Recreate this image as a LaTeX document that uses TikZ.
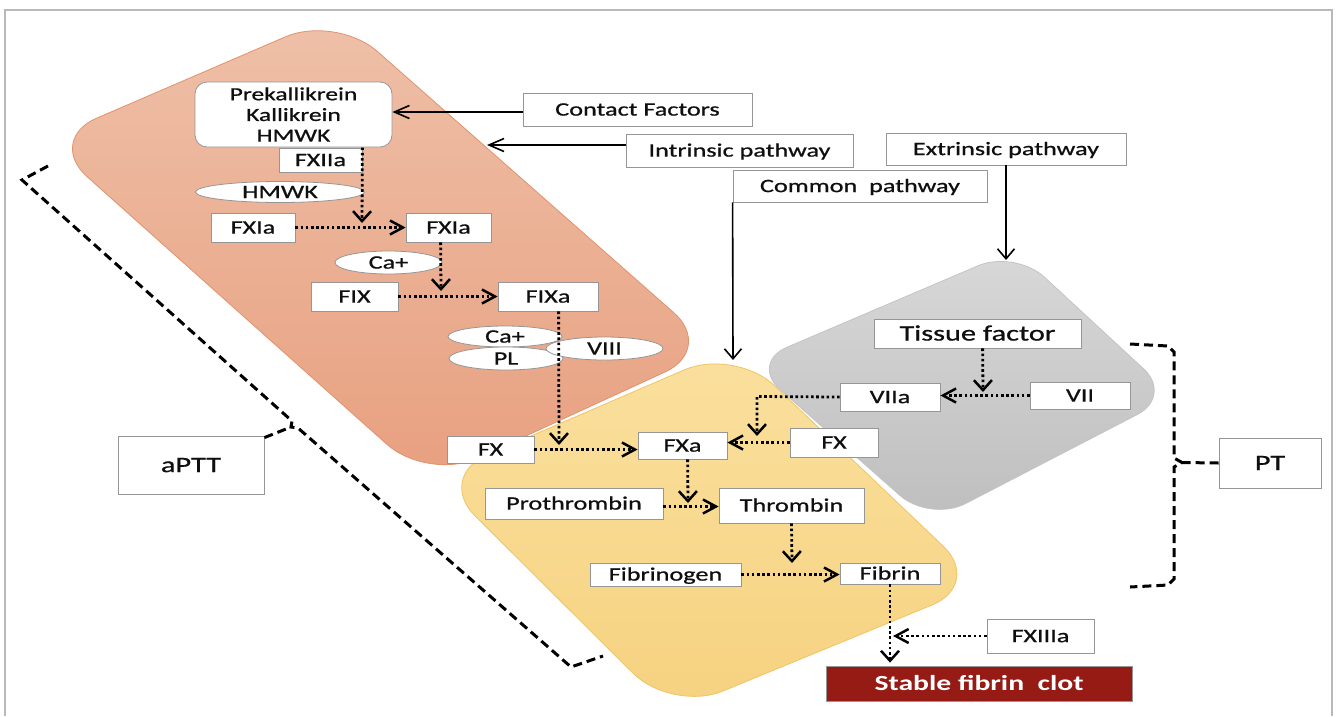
\documentclass[tikz,border=0pt]{standalone}
\usepackage{fontspec}
\setmainfont{Carlito}[FakeStretch=1.38, UprightFeatures={FakeBold=0.8}]
\usetikzlibrary{arrows.meta,shapes.geometric}
\definecolor{orTop}{RGB}{238,192,168}
\definecolor{orBot}{RGB}{232,160,128}
\definecolor{orEdge}{RGB}{226,146,108}
\definecolor{yeTop}{RGB}{250,224,158}
\definecolor{yeBot}{RGB}{246,210,128}
\definecolor{yeEdge}{RGB}{242,196,100}
\definecolor{grTop}{RGB}{216,216,216}
\definecolor{grBot}{RGB}{190,190,190}
\definecolor{grEdge}{RGB}{196,196,196}
\definecolor{boxgray}{RGB}{150,150,150}
\definecolor{clotred}{RGB}{149,27,20}
\definecolor{framegray}{RGB}{185,185,185}
\definecolor{txt}{RGB}{15,15,15}
\begin{document}
\begin{tikzpicture}[x=1pt,y=-1pt,
  basebox/.style={draw=boxgray, line width=0.8pt, fill=white, inner sep=0pt, text=txt},
  box/.style={basebox, font=\fontsize{19}{22}\selectfont, text height=12.2pt, text depth=0pt},
  bigbox/.style={basebox, font=\fontsize{22}{25}\selectfont, text height=14.1pt, text depth=0pt},
  ell/.style={ellipse, draw=boxgray, line width=0.8pt, fill=white, inner sep=0pt},
  elab/.style={label={[text=txt, font=\fontsize{19}{22}\selectfont, text height=12.2pt, text depth=0pt, inner sep=0pt]center:#1}},
  solidh/.style={line width=1.6pt, -{Straight Barb[length=15pt,width=13pt,line width=1.6pt]}},
  solidv/.style={line width=1.6pt, -{Straight Barb[length=10pt,width=17pt,line width=1.6pt]}},
  doth/.style={line width=2.8pt, dash pattern=on 2.6pt off 2.6pt, -{Straight Barb[length=13pt,width=14pt,line width=2.5pt]}},
  dotv/.style={line width=2.8pt, dash pattern=on 2.6pt off 2.6pt, -{Straight Barb[length=10pt,width=18pt,line width=2.5pt]}},
  dashbr/.style={line width=3pt, dash pattern=on 9pt off 5pt}
]
\useasboundingbox (0,0) rectangle (1338,716);
\fill[white] (0,0) rectangle (1338,716);
% frame
\draw[framegray, line width=1.5pt] (5,716) -- (5,10) -- (1332,10) -- (1332,716);

% pathway shapes
\draw[orEdge, line width=0.8pt, top color=orTop, bottom color=orBot, rounded corners=55pt]
  (336,15) -- (715,349) -- (428,481) -- (46,140) -- cycle;
\draw[grEdge, line width=0.8pt, top color=grTop, bottom color=grBot, rounded corners=40pt]
  (1015,250) -- (1173,396) -- (930,522) -- (750,363) -- cycle;
\draw[yeEdge, line width=0.8pt, top color=yeTop, bottom color=yeBot, rounded corners=55pt]
  (735,348) -- (983,584) -- (672,712) -- (436,477) -- cycle;

% intrinsic nodes
\node[basebox, rounded corners=12pt, align=center, font=\fontsize{18.5}{20.7}\selectfont,
  minimum width=197pt, minimum height=65pt] (pk) at (293.5,114.5) {Prekallikrein\\Kallikrein\\HMWK};
\node[box, minimum width=83pt, minimum height=24pt] (fxiia) at (320.5,160) {FXIIa};
\node[ell, minimum width=169pt, minimum height=21pt, elab=HMWK] (hmwk) at (280,192) {};
\node[box, minimum width=84pt, minimum height=29pt] (fxiaL) at (253,227.5) {FXIa};
\node[box, minimum width=85pt, minimum height=29pt] (fxiaR) at (448.5,227.5) {FXIa};
\node[ell, minimum width=107pt, minimum height=23pt, elab=Ca+] (ca1) at (388.5,262.5) {};
\node[box, minimum width=87pt, minimum height=29pt] (fix) at (354.5,296.5) {FIX};
\node[box, minimum width=100pt, minimum height=29pt] (fixa) at (548,296.5) {FIXa};
\node[ell, minimum width=114pt, minimum height=21pt, elab=Ca+] (ca2) at (505,336.5) {};
\node[ell, minimum width=114pt, minimum height=23pt, elab=PL] (pl) at (506,358.5) {};
\node[ell, minimum width=117pt, minimum height=23pt, elab=VIII] (viii) at (604.5,348.5) {};

% common / extrinsic nodes
\node[box, minimum width=87pt, minimum height=27pt] (fxL) at (490.5,449.5) {FX};
\node[box, minimum width=89pt, minimum height=27pt] (fxa) at (682.5,445.5) {FXa};
\node[box, minimum width=88pt, minimum height=29pt] (fxR) at (834,442.5) {FX};
\node[box, minimum width=100pt, minimum height=28pt] (viia) at (890,397) {VIIa};
\node[box, minimum width=100pt, minimum height=27pt] (vii) at (1080,395.5) {VII};
\node[bigbox, minimum width=207pt, minimum height=29pt] (tf) at (977.5,333.5) {Tissue factor};
\node[box, minimum width=178pt, minimum height=31pt] (proth) at (574,503.5) {Prothrombin};
\node[box, minimum width=145pt, minimum height=35pt] (thr) at (791.5,505.5) {Thrombin};
\node[box, minimum width=151pt, minimum height=23pt] (fgen) at (665.5,574.5) {Fibrinogen};
\node[box, minimum width=100pt, minimum height=21pt] (fib) at (890,573.5) {Fibrin};
\node[box, minimum width=107pt, minimum height=34pt] (fxiiia) at (1040.5,636) {FXIIIa};
\node[draw=boxgray, line width=0.8pt, fill=clotred, text=white, inner sep=0pt,
  font=\bfseries\fontsize{21.5}{24}\selectfont, text height=13.8pt, text depth=0pt,
  minimum width=306pt, minimum height=35pt] (clot) at (979,683.5) {Stable fibrin~ clot};

% label boxes
\node[box, minimum width=229pt, minimum height=33pt] (cf) at (637.5,109.5) {Contact Factors};
\node[box, minimum width=227pt, minimum height=33pt] (intr) at (739.5,150.5) {Intrinsic pathway};
\node[box, minimum width=240pt, minimum height=32pt] (ext) at (1006,149) {Extrinsic pathway};
\node[box, minimum width=254pt, minimum height=32pt] (com) at (860,186) {Common~ pathway};
\node[bigbox, minimum width=146pt, minimum height=58pt] (aptt) at (191,465) {aPTT};
\node[bigbox, minimum width=102pt, minimum height=50pt] (pt) at (1270,463) {PT};

% solid arrows
\draw[solidh] ([yshift=-2.5pt]cf.west) -- ([yshift=-2.5pt]cf.west -| pk.east);
\coordinate (intrEnd) at (487,145);
\draw[solidh] ([yshift=5.5pt]intr.west) -- (intrEnd);
\coordinate (comEnd) at (733,360);
\draw[solidv] (com.south west) -- (comEnd);
\coordinate (extEnd) at (1006,260);
\draw[solidv] (ext.south) -- (extEnd);

% dotted arrows
\coordinate (t1) at (362,223);
\draw[dotv] (fxiia.north east) -- (t1);
\draw[doth] (fxiaL.east) -- (fxiaR.west);
\coordinate (t2) at (441,291);
\draw[dotv] ([xshift=35pt]fxiaR.south west) -- (t2);
\draw[doth] (fix.east) -- (fixa.west);
\coordinate (t3) at (559,445);
\draw[dotv] ([xshift=61pt]fixa.south west) -- (t3);
\draw[doth] (fxL.east) -- (fxL.east -| fxa.west);
\coordinate (t4) at (983,392);
\draw[dotv] ([xshift=109pt]tf.south west) -- (t4);
\draw[doth] (vii.west) -- (vii.west -| viia.east);
\coordinate (c5) at (757,396.5);
\coordinate (t5) at (757,436);
\draw[dotv] (viia.west) -- (c5) -- (t5);
\draw[doth] (fxR.west) -- (fxR.west -| fxa.east);
\coordinate (t6) at (688,503);
\draw[dotv] ([xshift=50pt]fxa.south west) -- (t6);
\draw[doth] ([yshift=-3pt]proth.east) -- ([yshift=-3pt]proth.east -| thr.west);
\coordinate (t7) at (792,563);
\draw[dotv] (thr.south) -- (t7);
\draw[doth] (fgen.east) -- (fgen.east -| fib.west);
\draw[dotv, shorten >=3pt] (fib.south) -- (fib.south |- clot.north);
\draw[doth, shorten >=3pt] (fxiiia.west) -- (fxiiia.west -| fib.south);

% brackets
\coordinate (aTip) at (291,427);
\draw[dashbr] (48,166) -- (22,180) -- (292,421) -- (aTip) -- (298,428) -- (571,667) -- (603,656);
\draw[dashbr] ([yshift=-2pt]aptt.north east) -- (aTip);
\coordinate (pTip) at (1182,462.5);
\draw[dashbr] (1130,344) -- (1168,346) -- (1174,352) -- (1174,458) -- (pTip) -- (1174,467) -- (1174,579) -- (1168,585) -- (1130,587);
\draw[dashbr] (pt.west) -- (pTip);
\end{tikzpicture}
\end{document}
